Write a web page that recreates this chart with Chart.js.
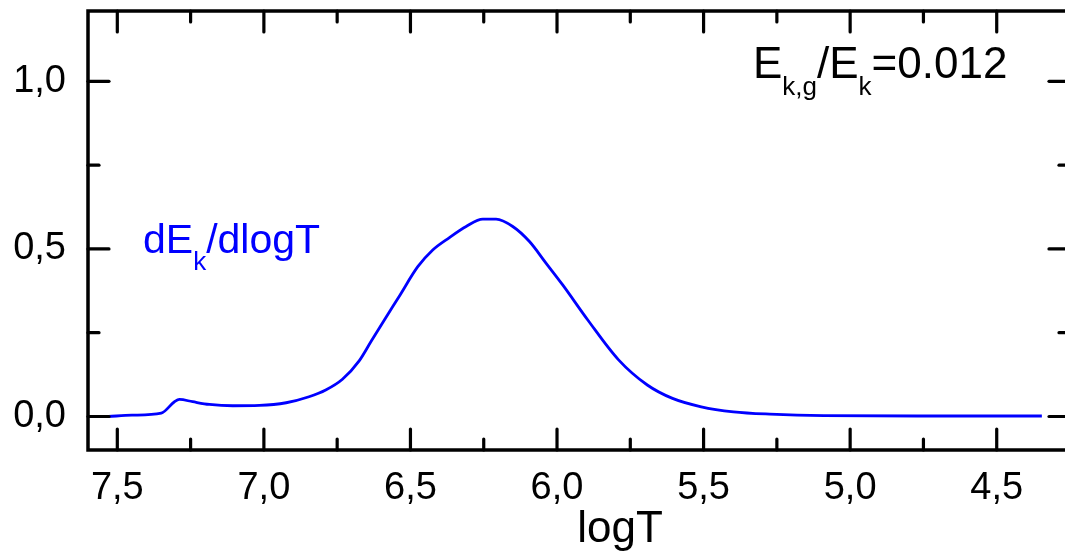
<!DOCTYPE html>
<html>
<head>
<meta charset="utf-8">
<script src="https://cdn.jsdelivr.net/npm/chart.js@4.4.1/dist/chart.umd.min.js"></script>
<style>
  html, body { margin: 0; padding: 0; background: #fff; overflow: hidden; }
  #wrap { width: 1072px; height: 552px; }
</style>
</head>
<body>
<div id="wrap"><canvas id="chart" width="1072" height="552"></canvas></div>
<script>
// values
const logT = [7.53, 7.45, 7.35, 7.305, 7.288, 7.243, 7.186, 7.106, 7.015, 6.924, 6.846, 6.789, 6.732,
  6.675, 6.633, 6.589, 6.538, 6.475, 6.424, 6.367, 6.31, 6.253, 6.208, 6.151, 6.094, 6.037, 5.98,
  5.895, 5.79, 5.692, 5.606, 5.508, 5.398, 5.274, 5.09, 4.77, 4.346];
const dEk = [0.0, 0.004, 0.01, 0.044, 0.051, 0.044, 0.036, 0.032, 0.033, 0.041, 0.059, 0.079, 0.111,
  0.166, 0.226, 0.288, 0.359, 0.447, 0.497, 0.534, 0.567, 0.589, 0.589, 0.567, 0.522, 0.457, 0.392,
  0.288, 0.169, 0.094, 0.054, 0.029, 0.014, 0.007, 0.0024, 0.0015, 0.0015];

const xMajor = [7.5, 7.0, 6.5, 6.0, 5.5, 5.0, 4.5];
const xMinor = [7.25, 6.75, 6.25, 5.75, 5.25, 4.75];
const yMajor = [0.0, 0.5, 1.0];
const yMinor = [0.25, 0.75];

const FONT = '"Liberation Sans", Arial, sans-serif';

// draws text with subscripts, parts = [[text, isSub], ...]
function drawRich(ctx, x, y, parts, size, subSize, color) {
  ctx.fillStyle = color;
  ctx.textAlign = 'left';
  ctx.textBaseline = 'alphabetic';
  parts.forEach(([t, sub]) => {
    ctx.font = (sub ? subSize : size) + 'px ' + FONT;
    ctx.fillText(t, x, sub ? y + 17 : y);
    x += ctx.measureText(t).width;
  });
}

const framePlugin = {
  id: 'frame',
  afterDraw(chart) {
    const ctx = chart.ctx;
    const a = chart.chartArea;
    const xs = chart.scales.x, ys = chart.scales.y;
    ctx.save();
    ctx.strokeStyle = '#000';
    ctx.lineWidth = 3.5;
    ctx.lineCap = 'butt';
    ctx.strokeRect(a.left, a.top, a.right - a.left, a.bottom - a.top);

    ctx.lineWidth = 3.2;
    ctx.lineCap = 'round';
    const tick = (x1, y1, x2, y2) => { ctx.beginPath(); ctx.moveTo(x1, y1); ctx.lineTo(x2, y2); ctx.stroke(); };
    xMajor.forEach(v => { const p = xs.getPixelForValue(v); tick(p, a.bottom, p, a.bottom - 21); tick(p, a.top, p, a.top + 21); });
    xMinor.forEach(v => { const p = xs.getPixelForValue(v); tick(p, a.bottom, p, a.bottom - 11); tick(p, a.top, p, a.top + 11); });
    yMajor.forEach(v => { const p = ys.getPixelForValue(v); tick(a.left, p, a.left + 21, p); tick(a.right, p, a.right - 21, p); });
    yMinor.forEach(v => { const p = ys.getPixelForValue(v); tick(a.left, p, a.left + 11, p); tick(a.right, p, a.right - 11, p); });

    ctx.fillStyle = '#000';
    ctx.font = '38px ' + FONT;
    ctx.textAlign = 'center';
    ctx.textBaseline = 'middle';
    xMajor.forEach(v => ctx.fillText(v.toFixed(1).replace('.', ','), xs.getPixelForValue(v), a.bottom + 39));
    ctx.textAlign = 'right';
    yMajor.forEach(v => ctx.fillText(v.toFixed(1).replace('.', ','), a.left - 22, ys.getPixelForValue(v)));

    ctx.font = '44px ' + FONT;
    ctx.textAlign = 'center';
    ctx.textBaseline = 'alphabetic';
    ctx.fillText('logT', 620, 542);

    drawRich(ctx, 753, 78, [['E', false], ['k,g', true], ['/E', false], ['k', true], ['=0.012', false]], 44, 26, '#000');
    drawRich(ctx, 143, 253, [['dE', false], ['k', true], ['/dlogT', false]], 41, 26, '#0000ff');
    ctx.restore();
  }
};

new Chart(document.getElementById('chart'), {
  type: 'line',
  data: {
    datasets: [{
      data: logT.map((t, i) => ({ x: t, y: dEk[i] })),
      borderColor: '#0000ff',
      borderWidth: 2.8,
      pointRadius: 0,
      fill: false,
      cubicInterpolationMode: 'monotone'
    }]
  },
  options: {
    responsive: false,
    devicePixelRatio: 1,
    animation: false,
    layout: { padding: { left: 88, top: 11, right: 2, bottom: 102 } },
    plugins: { legend: { display: false }, tooltip: { enabled: false } },
    scales: {
      x: { type: 'linear', reverse: true, min: 4.25, max: 7.6, display: false },
      y: { type: 'linear', min: -0.1, max: 1.21, display: false }
    }
  },
  plugins: [framePlugin]
});
</script>
</body>
</html>
